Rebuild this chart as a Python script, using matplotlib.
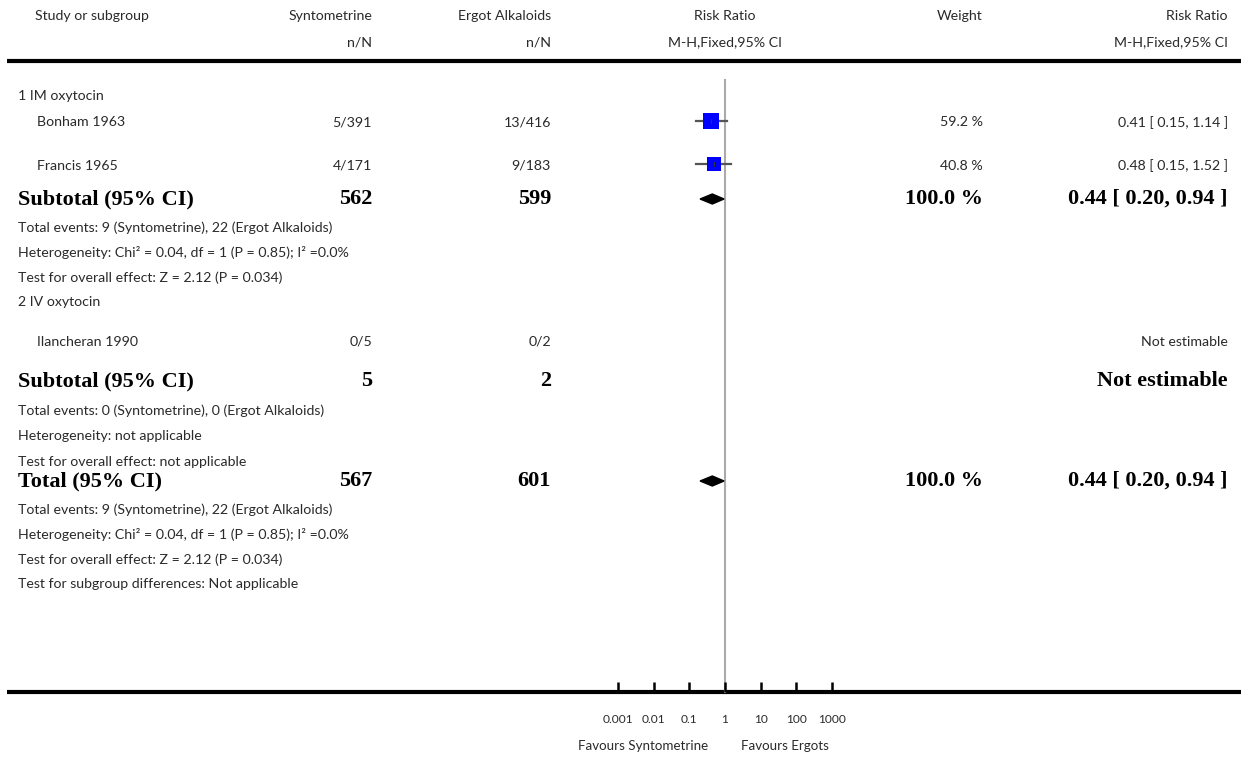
import numpy as np
import matplotlib
matplotlib.use("Agg")
import matplotlib.pyplot as plt
from matplotlib.patches import Polygon
from matplotlib.ticker import NullLocator

# data
studies = ["Bonham 1963", "Francis 1965", "Ilancheran 1990"]
study_group = [0, 0, 1]
events_syn = [5, 4, 0]
total_syn = [391, 171, 5]
events_erg = [13, 9, 0]
total_erg = [416, 183, 2]
rr = [0.41, 0.48, np.nan]
rr_lo = [0.15, 0.15, np.nan]
rr_hi = [1.14, 1.52, np.nan]
weights = [59.2, 40.8, np.nan]

groups = ["1 IM oxytocin", "2 IV oxytocin"]
group_n_syn = [562, 5]
group_n_erg = [599, 2]
group_rr = [0.44, np.nan]
group_lo = [0.20, np.nan]
group_hi = [0.94, np.nan]
group_weight = [100.0, np.nan]
group_ev_syn = [9, 0]
group_ev_erg = [22, 0]
group_het = ["Heterogeneity: Chi² = 0.04, df = 1 (P = 0.85); I² =0.0%",
             "Heterogeneity: not applicable"]
group_test = ["Test for overall effect: Z = 2.12 (P = 0.034)",
              "Test for overall effect: not applicable"]

total_n_syn, total_n_erg = 567, 601
total_rr, total_lo, total_hi, total_weight = 0.44, 0.20, 0.94, 100.0
total_ev_syn, total_ev_erg = 9, 22
total_het = "Heterogeneity: Chi² = 0.04, df = 1 (P = 0.85); I² =0.0%"
total_test = "Test for overall effect: Z = 2.12 (P = 0.034)"
subgroup_test = "Test for subgroup differences: Not applicable"

axis_ticks = [0.001, 0.01, 0.1, 1, 10, 100, 1000]
axis_labels = ["0.001", "0.01", "0.1", "1", "10", "100", "1000"]

W, H = 1241, 759
SANS = ["Lato", "DejaVu Sans"]
SERIF = ["Liberation Serif", "DejaVu Serif"]
FS = 10.2
BFS = 16
TXT = "#2a2a2a"

# column x positions (pixels)
X_NAME, X_STUDY, X_SYN, X_ERG, X_RR, X_W, X_RRT = 18, 37, 372, 551, 725, 983, 1228

fig = plt.figure(figsize=(W / 100, H / 100), dpi=100)
ax = fig.add_axes([0, 0, 1, 1])
ax.set_xlim(0, W)
ax.set_ylim(H, 0)
ax.axis("off")

# forest panel on a log scale
fa = fig.add_axes([618 / W, 0, (832 - 618) / W, 1])
fa.set_xscale("log")
fa.set_xlim(0.001, 1000)
fa.set_ylim(H, 0)
fa.patch.set_alpha(0)
for s in fa.spines.values():
    s.set_visible(False)
fa.spines["bottom"].set_position(("data", 692))
fa.set_yticks([])
fa.set_xticks(axis_ticks)
fa.set_xticklabels(axis_labels, family=SANS, fontsize=8.6, color=TXT)
fa.xaxis.set_minor_locator(NullLocator())
fa.tick_params(axis="x", direction="in", length=7, width=1.8, pad=16, color="black")


def txt(x, y, s, ha="left", bold=False, size=None):
    if bold:
        ax.text(x, y, s, ha=ha, va="center", family=SERIF, fontweight="bold",
                fontsize=size or BFS, color="black")
    else:
        ax.text(x, y + 1.5, s, ha=ha, va="center", family=SANS,
                fontsize=size or FS, color=TXT)


def diamond(y, est, lo, hi, h=5):
    fa.add_patch(Polygon([(lo, y), (est, y - h), (hi, y), (est, y + h)],
                         closed=True, color="black", zorder=4))


# header
txt(X_NAME + 17, 14, "Study or subgroup")
txt(X_SYN, 14, "Syntometrine", ha="right")
txt(X_ERG, 14, "Ergot Alkaloids", ha="right")
txt(X_RR, 14, "Risk Ratio", ha="center")
txt(X_W, 14, "Weight", ha="right")
txt(X_RRT, 14, "Risk Ratio", ha="right")
txt(X_SYN, 41, "n/N", ha="right")
txt(X_ERG, 41, "n/N", ha="right")
txt(X_RR, 41, "M-H,Fixed,95% CI", ha="center")
txt(X_RRT, 41, "M-H,Fixed,95% CI", ha="right")
ax.plot([7, W], [61, 61], color="black", lw=3, solid_capstyle="butt")

# row layout
group_rows = [dict(head=95, studies=[121, 164], sub=199, info=[226, 251, 276]),
              dict(head=301, studies=[340], sub=381, info=[409, 435, 460])]
total_row, total_info = 481, [508, 533, 558, 583]

for g, name in enumerate(groups):
    lay = group_rows[g]
    txt(X_NAME, lay["head"], name)
    idx = [i for i, sg in enumerate(study_group) if sg == g]
    for i, y in zip(idx, lay["studies"]):
        txt(X_STUDY, y, studies[i])
        txt(X_SYN, y, f"{events_syn[i]}/{total_syn[i]}", ha="right")
        txt(X_ERG, y, f"{events_erg[i]}/{total_erg[i]}", ha="right")
        if np.isnan(rr[i]):
            txt(X_RRT, y, "Not estimable", ha="right")
        else:
            txt(X_W, y, f"{weights[i]:.1f} %", ha="right")
            txt(X_RRT, y, f"{rr[i]:.2f} [ {rr_lo[i]:.2f}, {rr_hi[i]:.2f} ]", ha="right")
            fa.plot([rr_lo[i], rr_hi[i]], [y, y], color="#555555", lw=1.6, zorder=2)
            side = 12.2 * np.sqrt(weights[i] / max(np.nan_to_num(weights)))
            fa.plot(rr[i], y, marker="s", ms=side, mfc="#0000ff", mec="#0000ff",
                    mew=0, zorder=3)
            fa.plot([rr[i], rr[i]], [y - 2, y + 2], color="#333333", lw=0.8, zorder=4)
    y = lay["sub"]
    txt(X_NAME, y, "Subtotal (95% CI)", bold=True)
    txt(X_SYN, y, str(group_n_syn[g]), ha="right", bold=True)
    txt(X_ERG, y, str(group_n_erg[g]), ha="right", bold=True)
    if np.isnan(group_rr[g]):
        txt(X_RRT, y, "Not estimable", ha="right", bold=True)
    else:
        txt(X_W, y, f"{group_weight[g]:.1f} %", ha="right", bold=True)
        txt(X_RRT, y, f"{group_rr[g]:.2f} [ {group_lo[g]:.2f}, {group_hi[g]:.2f} ]",
            ha="right", bold=True)
        diamond(y, group_rr[g], group_lo[g], group_hi[g])
    info = [f"Total events: {group_ev_syn[g]} (Syntometrine), {group_ev_erg[g]} (Ergot Alkaloids)",
            group_het[g], group_test[g]]
    for s, yy in zip(info, lay["info"]):
        txt(X_NAME, yy, s)

# overall
txt(X_NAME, total_row, "Total (95% CI)", bold=True)
txt(X_SYN, total_row, str(total_n_syn), ha="right", bold=True)
txt(X_ERG, total_row, str(total_n_erg), ha="right", bold=True)
txt(X_W, total_row, f"{total_weight:.1f} %", ha="right", bold=True)
txt(X_RRT, total_row, f"{total_rr:.2f} [ {total_lo:.2f}, {total_hi:.2f} ]", ha="right", bold=True)
diamond(total_row, total_rr, total_lo, total_hi)
info = [f"Total events: {total_ev_syn} (Syntometrine), {total_ev_erg} (Ergot Alkaloids)",
        total_het, total_test, subgroup_test]
for s, yy in zip(info, total_info):
    txt(X_NAME, yy, s)

# line of no effect and bottom axis
fa.plot([1, 1], [80, 692], color="#aaaaaa", lw=1.5, zorder=1)
ax.plot([7, W], [692, 692], color="black", lw=3, solid_capstyle="butt")
txt(708, 744, "Favours Syntometrine", ha="right", size=9.6)
txt(741, 744, "Favours Ergots", ha="left", size=9.6)

fig.savefig("out.png", dpi=100)
